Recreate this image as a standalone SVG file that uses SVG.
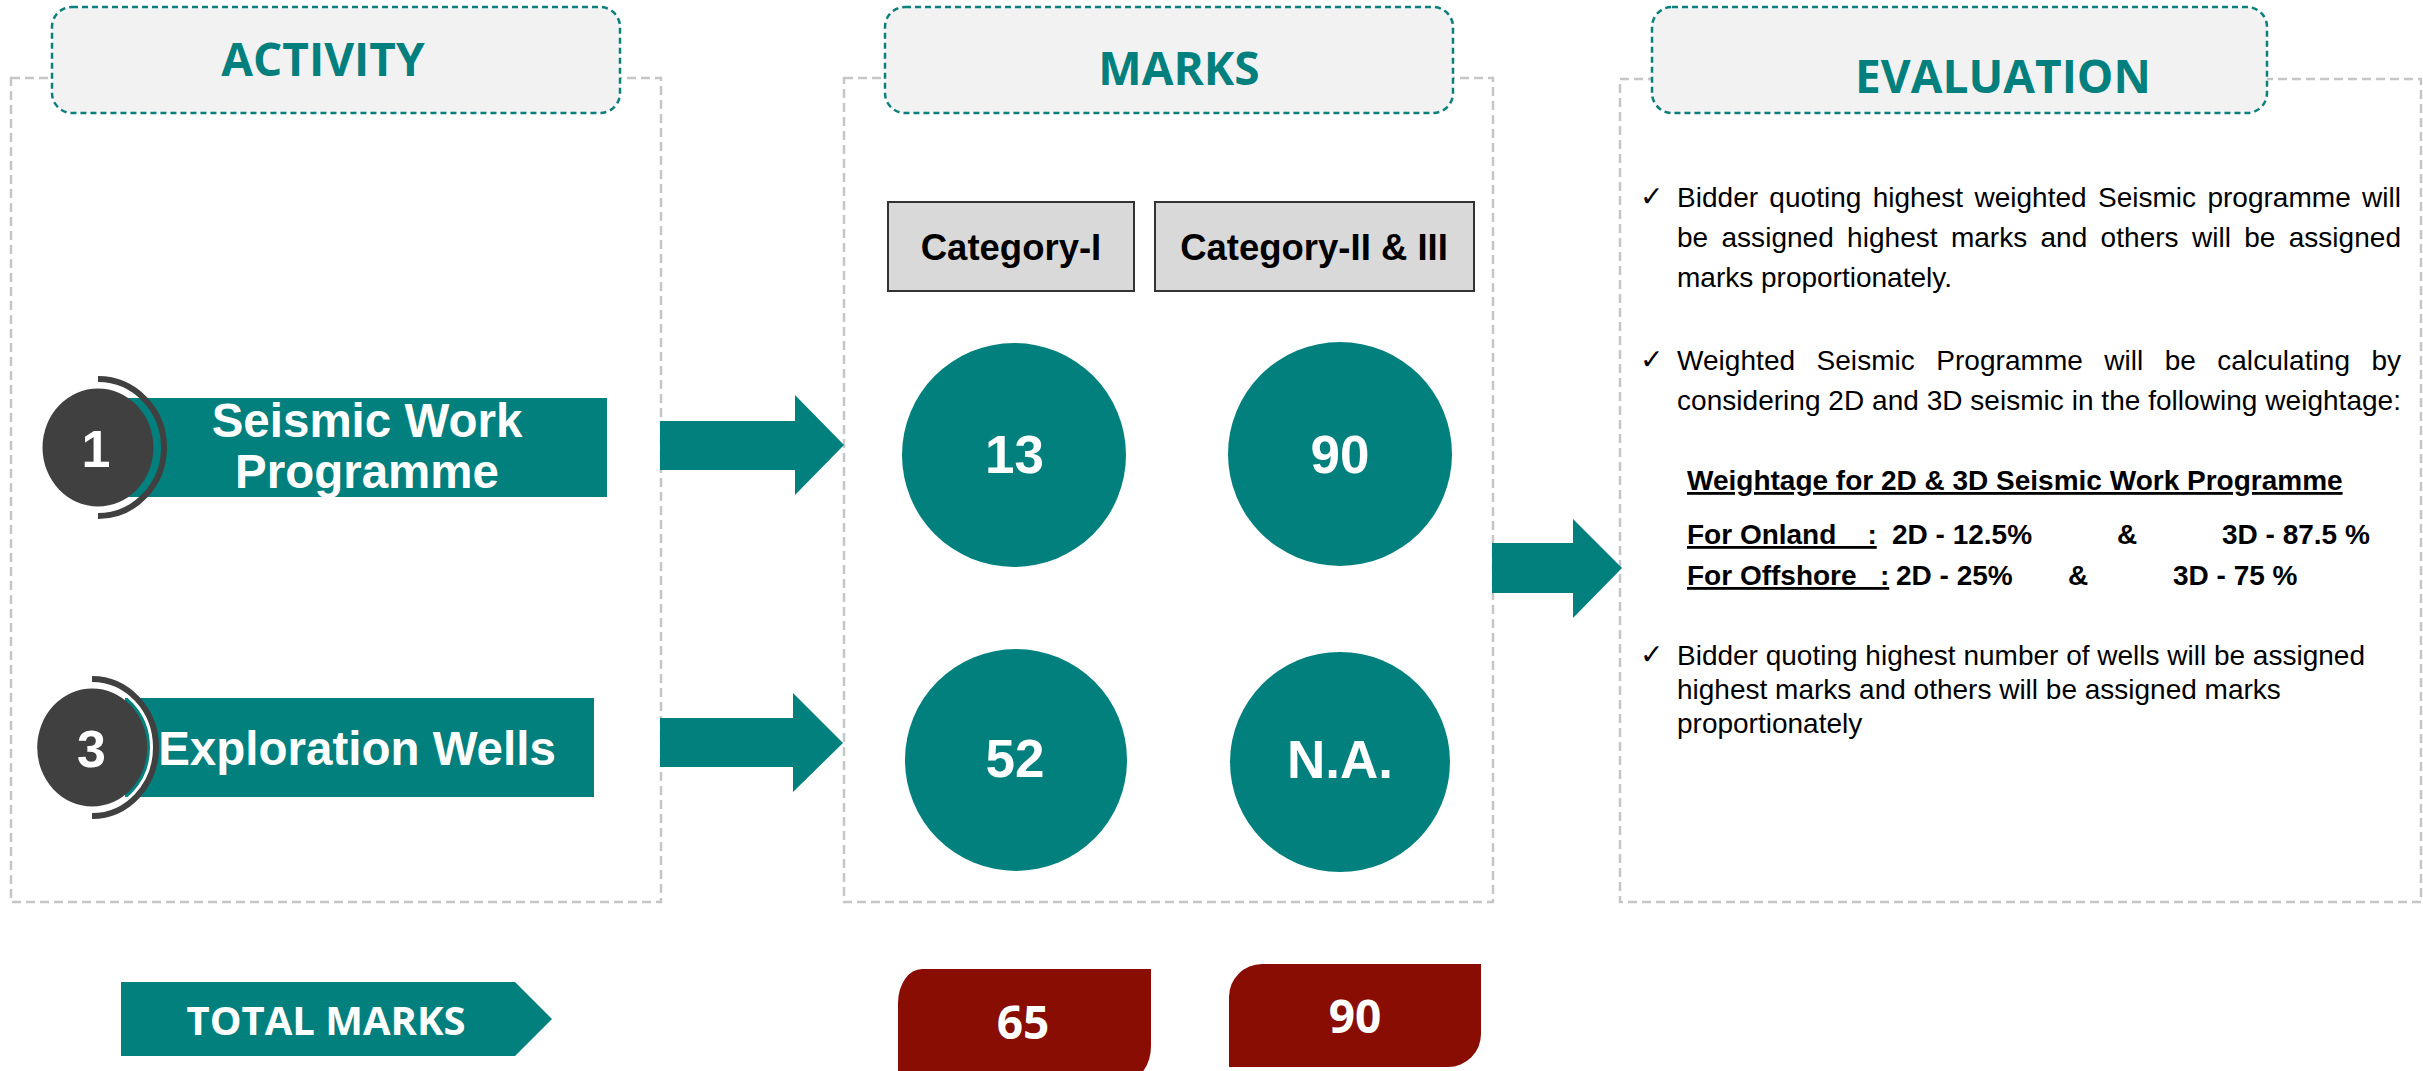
<svg xmlns="http://www.w3.org/2000/svg" width="2423" height="1071" viewBox="0 0 2423 1071">
<style>
.panel{fill:none;stroke:#C6C6C6;stroke-width:2.5;stroke-dasharray:9 5}
.hdr{fill:#F2F2F2;stroke:#0A7F7B;stroke-width:2.5;stroke-dasharray:6 4}
.htxt{font-family:"Open Sans","Noto Sans",sans-serif;font-weight:bold;font-size:46px;fill:#03807D;text-anchor:middle}
.teal{fill:#02807E}
.dark{fill:#404040}
.red{fill:#890D03}
.cat{fill:#D9D9D9;stroke:#333333;stroke-width:2}
.cattxt{font-family:"Liberation Sans",Arial,sans-serif;font-weight:bold;font-size:36.5px;fill:#000;text-anchor:middle}
.wb{font-family:"Liberation Sans",Arial,sans-serif;font-weight:bold;fill:#fff;text-anchor:middle}
.num{font-size:53px}
.act{font-size:47.5px}
.idx{font-size:52px}
.cal{font-family:"Open Sans","Noto Sans",sans-serif;font-weight:bold;fill:#fff;text-anchor:middle}
.body{font-family:"Liberation Sans",Arial,sans-serif;font-size:28px;fill:#000}
.bb{font-family:"Liberation Sans",Arial,sans-serif;font-size:28px;font-weight:bold;fill:#000}
.chk{font-family:"DejaVu Sans",sans-serif;font-size:28px;fill:#000}
.arcd{fill:none;stroke:#404040;stroke-width:6}
.arcw{fill:none;stroke:#fff;stroke-width:4}
</style>

<g id="panel-activity">
<rect class="panel" x="11" y="78" width="650" height="824"/>
<rect class="hdr" x="52" y="7" width="568" height="106" rx="20"/>
<text class="htxt" x="323" y="76">ACTIVITY</text>
</g>

<g id="panel-marks">
<rect class="panel" x="844" y="78" width="649" height="824"/>
<rect class="hdr" x="885" y="7" width="568" height="106" rx="20"/>
<text class="htxt" x="1179" y="85">MARKS</text>
</g>

<g id="panel-evaluation">
<rect class="panel" x="1620" y="79" width="801" height="823"/>
<rect class="hdr" x="1652" y="7" width="615" height="106" rx="20"/>
<text class="htxt" x="2003" y="93" font-size="45">EVALUATION</text>
</g>

<g id="activity-seismic">
<rect class="teal" x="125" y="398" width="482" height="99"/>
<path class="arcw" d="M98 386 A61 64.5 0 0 1 98 509"/>
<path class="arcd" d="M98 379 A66 68.5 0 0 1 98 516"/>
<ellipse class="dark" cx="98" cy="447.5" rx="55.5" ry="59"/>
<text class="wb idx" x="96" y="467">1</text>
<text class="wb act" x="367" y="437">Seismic Work</text>
<text class="wb act" x="367" y="488">Programme</text>
</g>

<g id="activity-wells">
<rect class="teal" x="125" y="698" width="469" height="99"/>
<path class="arcw" d="M92 683 A60 64.5 0 0 1 92 812"/>
<path class="arcd" d="M92 679 A64 68.5 0 0 1 92 816"/>
<ellipse class="dark" cx="92.2" cy="747.5" rx="55" ry="59"/>
<text class="wb idx" x="91.5" y="767">3</text>
<text class="wb act" x="357" y="765">Exploration Wells</text>
</g>

<g id="cat-1">
<rect class="cat" x="888" y="202" width="246" height="89"/>
<text class="cattxt" x="1011" y="260">Category-I</text>
</g>
<g id="cat-2">
<rect class="cat" x="1155" y="202" width="319" height="89"/>
<text class="cattxt" x="1314" y="260">Category-II &amp; III</text>
</g>

<g id="mark-13">
<circle class="teal" cx="1014" cy="455" r="112"/>
<text class="wb num" x="1014.5" y="473">13</text>
</g>
<g id="mark-90">
<circle class="teal" cx="1340" cy="454" r="112"/>
<text class="wb num" x="1340" y="473">90</text>
</g>
<g id="mark-52">
<circle class="teal" cx="1016" cy="760" r="111"/>
<text class="wb num" x="1015" y="777">52</text>
</g>
<g id="mark-na">
<circle class="teal" cx="1340" cy="762" r="110"/>
<text class="wb num" x="1340" y="778">N.A.</text>
</g>

<g id="evaluation-text">
<text class="chk" x="1640" y="206">✓</text>
<text class="body" x="1677" y="207" word-spacing="3.5" textLength="724" lengthAdjust="spacing">Bidder quoting highest weighted Seismic programme will</text>
<text class="body" x="1677" y="247" word-spacing="5.5" textLength="724" lengthAdjust="spacing">be assigned highest marks and others will be assigned</text>
<text class="body" x="1677" y="287">marks proportionately.</text>

<text class="chk" x="1640" y="369">✓</text>
<text class="body" x="1677" y="370" word-spacing="13.5" textLength="724" lengthAdjust="spacing">Weighted Seismic Programme will be calculating by</text>
<text class="body" x="1677" y="410" textLength="724" lengthAdjust="spacing">considering 2D and 3D seismic in the following weightage:</text>

<text class="bb" x="1687" y="490" text-decoration="underline">Weightage for 2D &amp; 3D Seismic Work Programme</text>
<text class="bb" x="1687" y="544" xml:space="preserve"><tspan text-decoration="underline">For Onland    :</tspan></text>
<text class="bb" x="1892" y="544">2D - 12.5%</text>
<text class="bb" x="2117" y="544">&amp;</text>
<text class="bb" x="2222" y="544">3D - 87.5 %</text>
<text class="bb" x="1687" y="585" xml:space="preserve"><tspan text-decoration="underline">For Offshore   :</tspan></text>
<text class="bb" x="1896" y="585">2D - 25%</text>
<text class="bb" x="2068" y="585">&amp;</text>
<text class="bb" x="2173" y="585">3D - 75 %</text>

<text class="chk" x="1640" y="664">✓</text>
<text class="body" x="1677" y="665">Bidder quoting highest number of wells will be assigned</text>
<text class="body" x="1677" y="699">highest marks and others will be assigned marks</text>
<text class="body" x="1677" y="733">proportionately</text>
</g>

<g id="total-marks">
<polygon class="teal" points="121,982 515,982 552,1019 515,1056 121,1056"/>
<text class="cal" x="326" y="1035" font-size="40">TOTAL MARKS</text>
</g>
<g id="total-65">
<path class="red" d="M898 1080 V1003 A24 34 0 0 1 922 969 H1151 V1046 A24 34 0 0 1 1127 1080 Z"/>
<text class="cal" x="1023" y="1039" font-size="46">65</text>
</g>
<g id="total-90">
<path class="red" d="M1229 1067 V997 A33 33 0 0 1 1262 964 H1481 V1034 A33 33 0 0 1 1448 1067 Z"/>
<text class="cal" x="1355" y="1033" font-size="46">90</text>
</g>

<g id="connectors">
<polygon class="teal" points="660,421 795,421 795,395 844,445 795,495 795,470 660,470"/>
<polygon class="teal" points="660,718 793,718 793,693 843,743 793,792 793,767 660,767"/>
<polygon class="teal" points="1492,543 1573,543 1573,519 1622,568 1573,618 1573,593 1492,593"/>
</g>
</svg>
